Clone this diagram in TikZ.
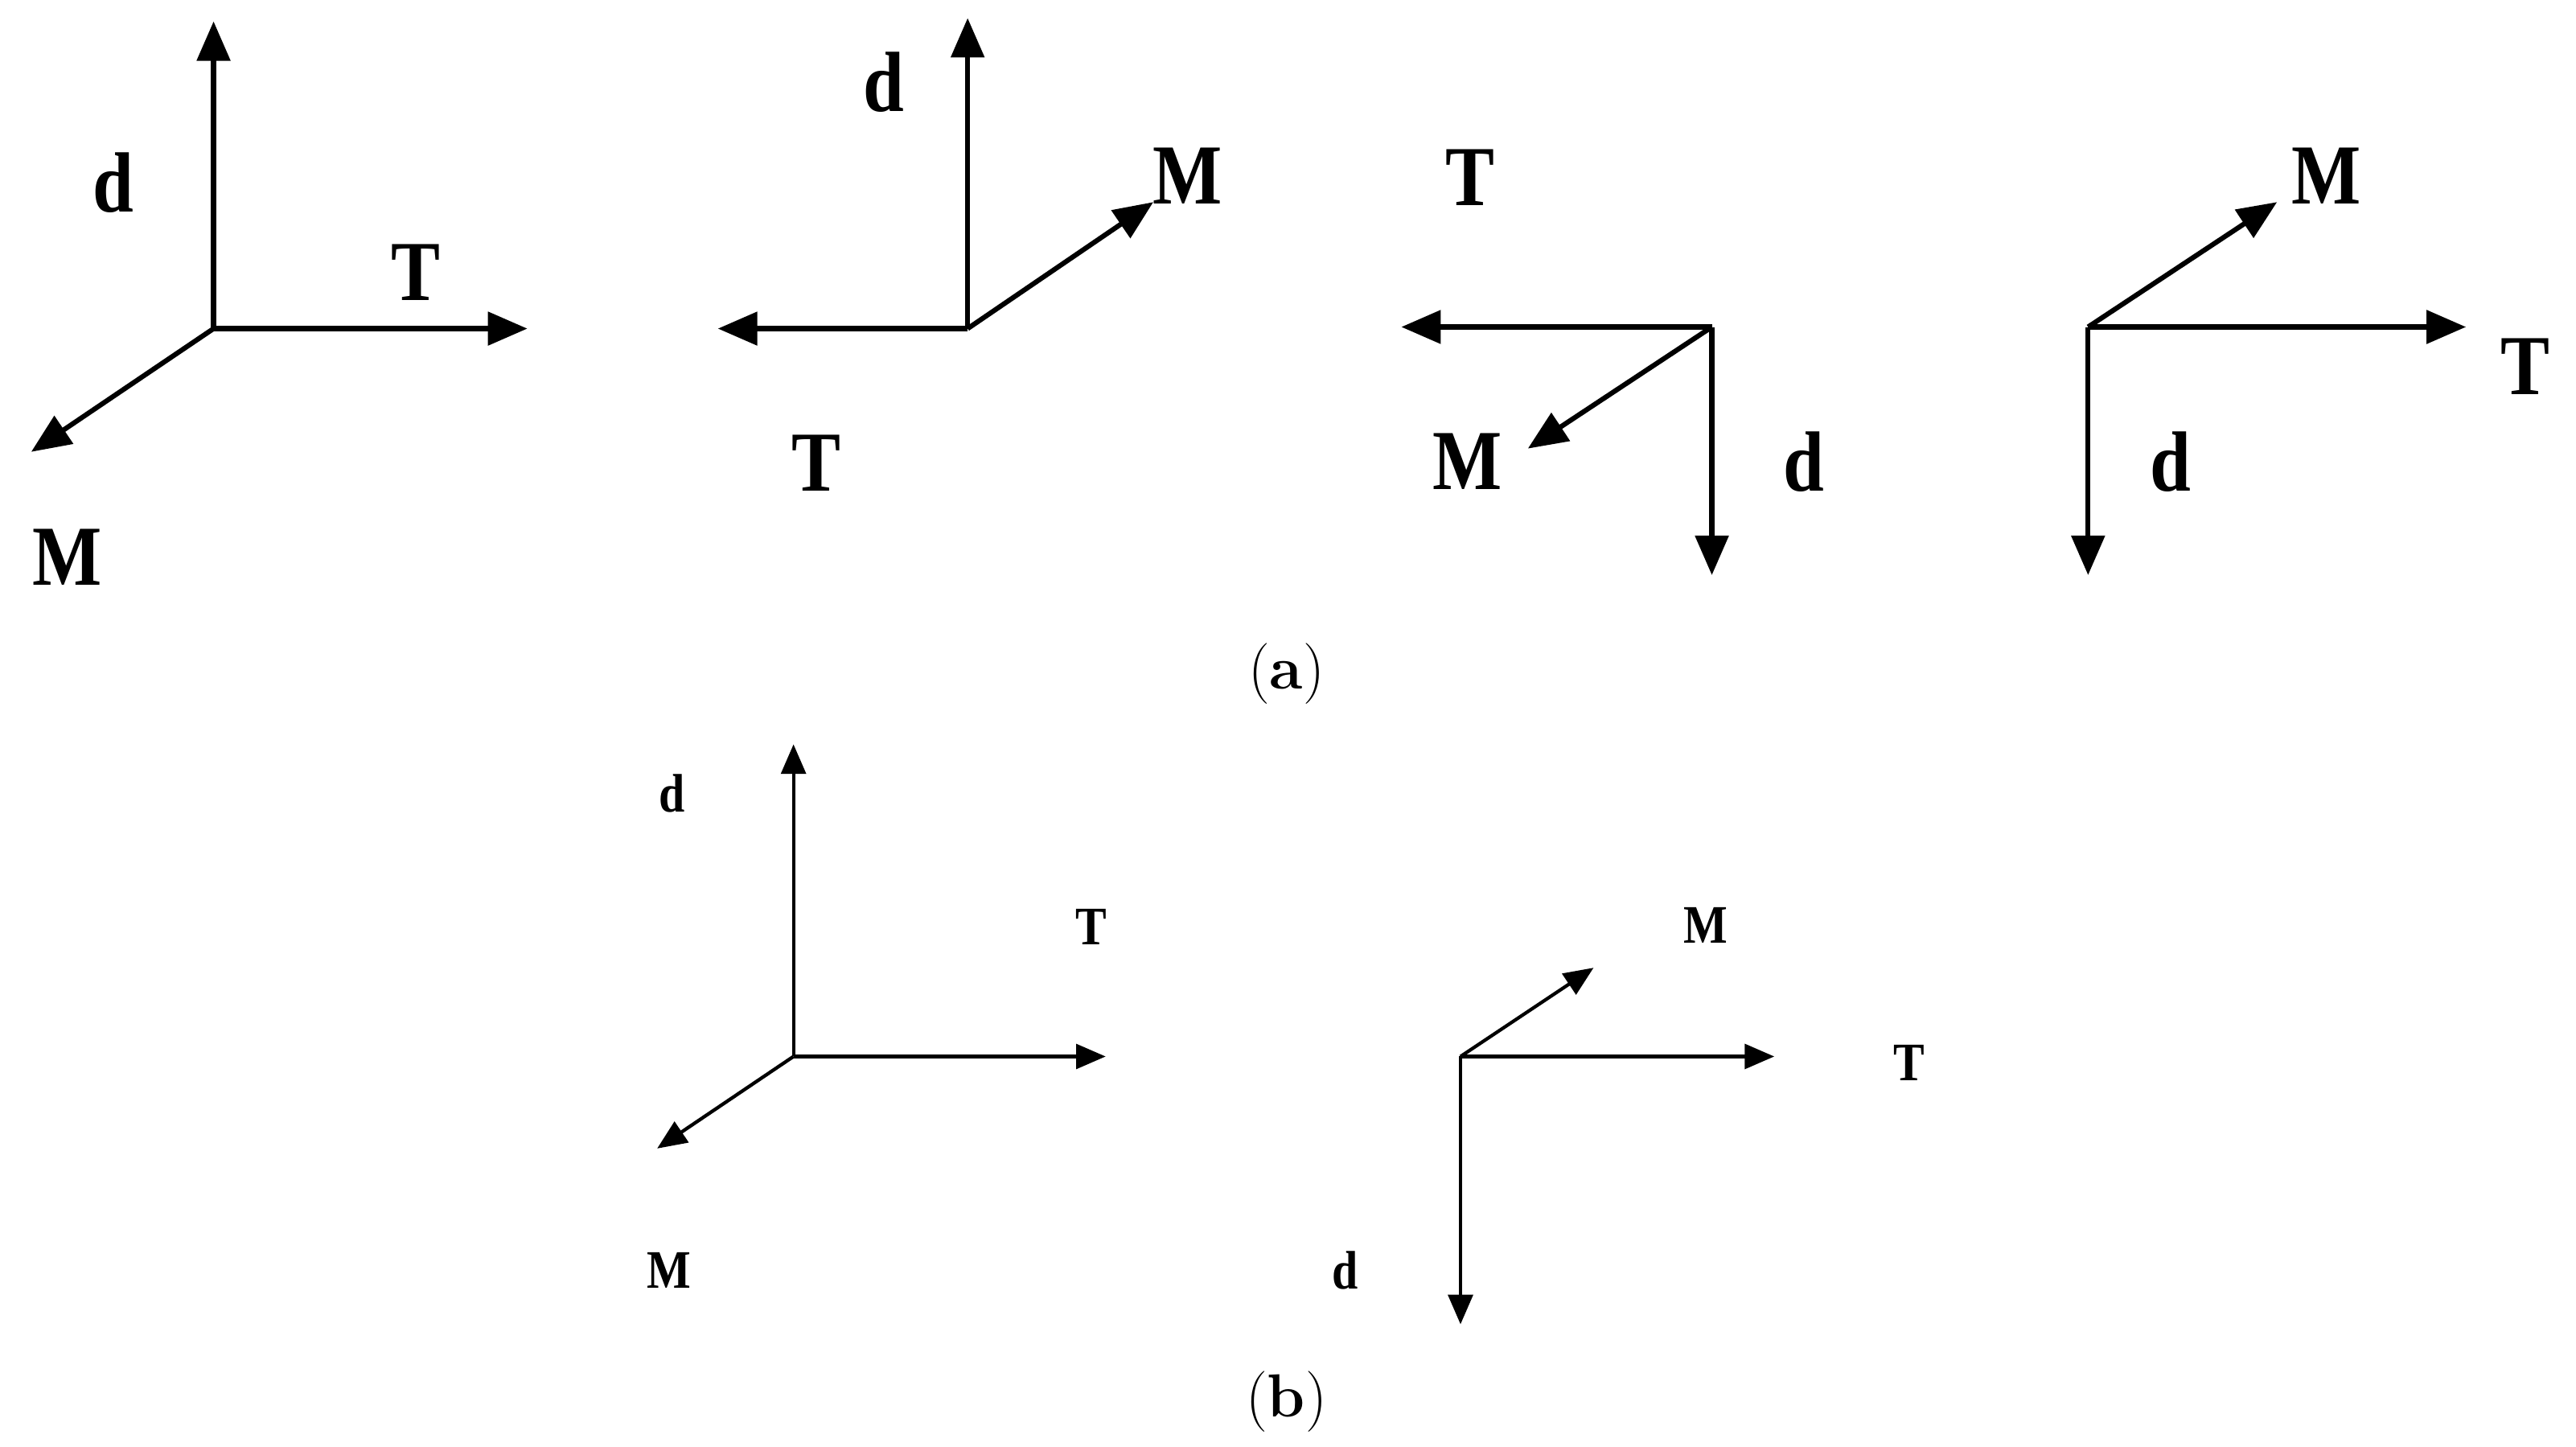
\documentclass[tikz,border=0pt]{standalone}
\usepackage{fontspec}
\newfontfamily\labfont[FakeStretch=0.86]{Liberation Serif}
\usetikzlibrary{arrows.meta}
\begin{document}
\begin{tikzpicture}[x=1pt,y=-1pt,
  axA/.style={line width=3pt,-{Triangle[length=24pt,width=20pt]}},
  axB/.style={line width=2.1pt,-{Triangle[length=18pt,width=15pt]}},
  labA/.style={font=\labfont\bfseries\fontsize{52}{52}\selectfont, inner sep=0pt},
  labB/.style={font=\labfont\bfseries\fontsize{33}{33}\selectfont, inner sep=0pt},
  captxt/.style={font=\fontsize{37}{37}\selectfont, inner sep=0pt}]
\useasboundingbox[fill=white] (0,0) rectangle (1568,880.2);

% ---- (a) panel 1
\coordinate (o1) at (130,200);
\coordinate (o1d) at (130,13);
\coordinate (o1t) at (321,200);
\coordinate (o1m) at (19,275);
\draw[axA] (o1) -- (o1d);
\draw[axA] (o1) -- (o1t);
\draw[axA] (o1) -- (o1m);
\node[labA] (l1d) at (69,111) {d};
\node[labA] (l1t) at (253,166) {T};
\node[labA] (l1m) at (41,339) {M};

% ---- (a) panel 2
\coordinate (o2) at (589,200);
\coordinate (o2d) at (589,11);
\coordinate (o2t) at (437,200);
\coordinate (o2m) at (702,123);
\draw[axA] (o2) -- (o2d);
\draw[axA] (o2) -- (o2t);
\draw[axA] (o2) -- (o2m);
\node[labA] (l2d) at (538,50) {d};
\node[labA] (l2m) at (723,107) {M};
\node[labA] (l2t) at (497,282) {T};

% ---- (a) panel 3
\coordinate (o3) at (1042,199);
\coordinate (o3t) at (853,199);
\coordinate (o3d) at (1042,350);
\coordinate (o3m) at (930,273);
\draw[axA] (o3) -- (o3t);
\draw[axA] (o3) -- (o3d);
\draw[axA] (o3) -- (o3m);
\node[labA] (l3t) at (895,108) {T};
\node[labA] (l3m) at (893,281) {M};
\node[labA] (l3d) at (1098,281) {d};

% ---- (a) panel 4
\coordinate (o4) at (1271,199);
\coordinate (o4t) at (1501,199);
\coordinate (o4d) at (1271,350);
\coordinate (o4m) at (1386,123);
\draw[axA] (o4) -- (o4t);
\draw[axA] (o4) -- (o4d);
\draw[axA] (o4) -- (o4m);
\node[labA] (l4m) at (1416,107) {M};
\node[labA] (l4t) at (1537,223) {T};
\node[labA] (l4d) at (1321,281) {d};

\node[captxt] (capa) at (783,410) {(\textbf{a})};

% ---- (b) panel 1
\coordinate (p1) at (483,643);
\coordinate (p1d) at (483,453);
\coordinate (p1t) at (673,643);
\coordinate (p1m) at (400,699);
\draw[axB] (p1) -- (p1d);
\draw[axB] (p1) -- (p1t);
\draw[axB] (p1) -- (p1m);
\node[labB] (m1d) at (409,483) {d};
\node[labB] (m1t) at (664,564) {T};
\node[labB] (m1m) at (407,773) {M};

% ---- (b) panel 2
\coordinate (p2) at (889,643);
\coordinate (p2t) at (1080,643);
\coordinate (p2m) at (970,589);
\coordinate (p2d) at (889,806);
\draw[axB] (p2) -- (p2t);
\draw[axB] (p2) -- (p2m);
\draw[axB] (p2) -- (p2d);
\node[labB] (m2m) at (1038,563) {M};
\node[labB] (m2t) at (1162,647) {T};
\node[labB] (m2d) at (819,773) {d};

\node[captxt] (capb) at (783,853) {(\textbf{b})};
\end{tikzpicture}
\end{document}
